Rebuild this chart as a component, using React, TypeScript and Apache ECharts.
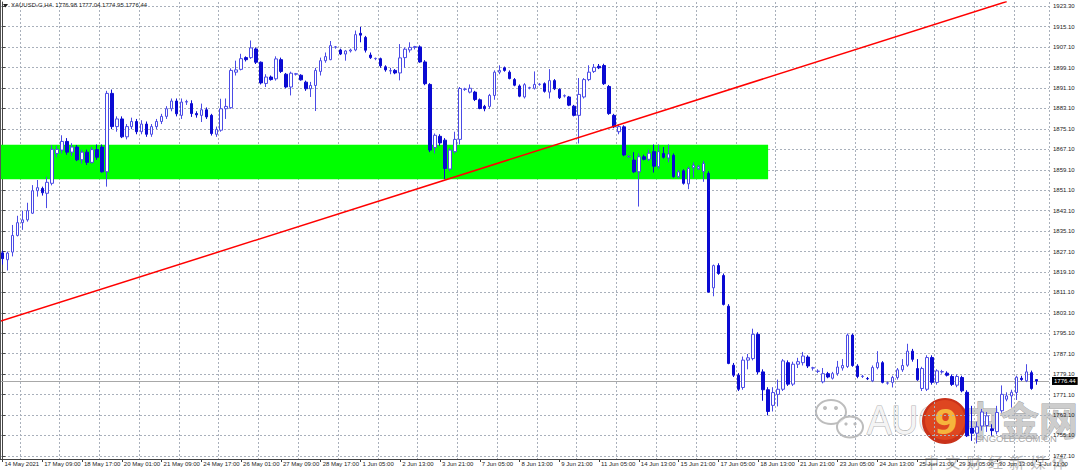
import React, { useEffect, useRef } from "react";
import * as echarts from "echarts";

const tickLabels = [
  "14 May 2021", "17 May 09:00", "18 May 17:00", "20 May 01:00", "21 May 09:00",
  "24 May 17:00", "26 May 01:00", "27 May 09:00", "28 May 17:00", "1 Jun 05:00",
  "2 Jun 13:00", "3 Jun 21:00", "7 Jun 05:00", "8 Jun 13:00", "9 Jun 21:00",
  "11 Jun 05:00", "14 Jun 13:00", "15 Jun 21:00", "17 Jun 05:00", "18 Jun 13:00",
  "21 Jun 21:00", "23 Jun 05:00", "24 Jun 13:00", "25 Jun 21:00", "29 Jun 05:00",
  "30 Jun 13:00", "1 Jul 21:00",
];

const priceLabels = [
  1923.3, 1915.1, 1907.1, 1899.1, 1891.1, 1883.1, 1875.1, 1867.1, 1859.1, 1851.1,
  1843.1, 1835.1, 1827.1, 1819.1, 1811.1, 1803.1, 1795.1, 1787.1, 1779.1, 1771.1,
  1763.1, 1755.1, 1747.1,
];

// [open, high, low, close] per H4 bar
const candles: number[][] = [
  [1826.6, 1827.5, 1822.0, 1824.3], [1823.9, 1827.1, 1819.7, 1826.5], [1826.9, 1837.5, 1825.2, 1833.4],
  [1833.4, 1841.1, 1833.0, 1838.4], [1838.4, 1843.1, 1835.6, 1839.5], [1839.5, 1846.2, 1838.8, 1843.1],
  [1842.1, 1853.1, 1841.8, 1850.9], [1850.9, 1855.1, 1848.6, 1852.1], [1851.8, 1852.5, 1849.0, 1850.1],
  [1849.9, 1856.4, 1844.1, 1854.2], [1853.8, 1868.7, 1853.0, 1867.1], [1865.5, 1868.5, 1864.0, 1867.1],
  [1866.8, 1872.6, 1865.5, 1870.2], [1870.2, 1871.5, 1865.0, 1866.0], [1866.0, 1869.5, 1864.5, 1868.0],
  [1868.0, 1868.8, 1862.5, 1863.0], [1863.0, 1867.0, 1861.5, 1866.0], [1866.0, 1867.0, 1861.0, 1862.0],
  [1862.0, 1868.0, 1861.5, 1867.0], [1867.0, 1869.0, 1863.0, 1864.0], [1868.0, 1869.0, 1858.0, 1858.3],
  [1858.3, 1890.0, 1852.5, 1889.0], [1889.0, 1890.5, 1875.0, 1876.0], [1876.0, 1880.0, 1874.0, 1879.0],
  [1879.0, 1880.0, 1871.5, 1872.0], [1872.0, 1877.0, 1871.0, 1876.0], [1876.0, 1879.5, 1875.0, 1878.0],
  [1878.0, 1879.0, 1873.0, 1874.0], [1874.0, 1878.5, 1873.0, 1877.0], [1877.0, 1878.0, 1872.0, 1873.0],
  [1873.0, 1877.0, 1872.0, 1876.0], [1876.0, 1879.0, 1875.0, 1878.0], [1878.0, 1881.0, 1877.0, 1880.0],
  [1880.0, 1884.0, 1879.0, 1883.0], [1883.0, 1887.0, 1882.0, 1886.0], [1886.0, 1887.0, 1880.0, 1881.0],
  [1880.4, 1887.0, 1879.0, 1885.6], [1885.6, 1886.5, 1884.5, 1885.8], [1885.0, 1886.3, 1879.8, 1881.1],
  [1881.1, 1882.0, 1879.5, 1880.6], [1880.4, 1885.0, 1877.8, 1882.6], [1882.6, 1883.5, 1879.0, 1879.8],
  [1880.4, 1881.0, 1872.5, 1873.3], [1873.0, 1876.0, 1872.0, 1874.9], [1874.6, 1886.9, 1874.0, 1883.0],
  [1883.0, 1887.0, 1879.0, 1883.9], [1883.4, 1898.8, 1883.0, 1898.0], [1897.3, 1901.8, 1896.0, 1898.2],
  [1898.4, 1904.5, 1898.0, 1902.6], [1903.0, 1903.5, 1901.5, 1902.2], [1903.0, 1909.7, 1902.5, 1906.8],
  [1906.4, 1907.0, 1900.5, 1901.2], [1901.2, 1901.5, 1892.5, 1893.1], [1892.9, 1896.5, 1891.5, 1895.4],
  [1895.4, 1896.0, 1894.0, 1894.4], [1894.7, 1903.5, 1894.0, 1902.5], [1902.2, 1903.0, 1897.0, 1897.6],
  [1896.5, 1897.0, 1891.0, 1891.5], [1891.5, 1897.5, 1888.2, 1896.9], [1896.5, 1897.0, 1896.0, 1896.7],
  [1896.1, 1896.5, 1894.0, 1894.3], [1893.4, 1894.0, 1890.0, 1890.8], [1890.8, 1893.5, 1887.6, 1892.1],
  [1892.1, 1899.0, 1882.1, 1898.0], [1897.6, 1903.0, 1896.0, 1901.8], [1901.8, 1905.0, 1901.0, 1903.4],
  [1902.2, 1909.5, 1902.0, 1907.7], [1907.1, 1907.5, 1906.5, 1907.2], [1906.0, 1906.5, 1904.0, 1904.4],
  [1904.4, 1906.0, 1901.8, 1905.6], [1905.6, 1906.5, 1905.0, 1906.0], [1906.0, 1913.6, 1905.5, 1912.0],
  [1912.5, 1915.0, 1909.0, 1911.8], [1910.9, 1911.5, 1905.0, 1905.9], [1904.0, 1905.0, 1902.5, 1903.0],
  [1902.6, 1903.0, 1902.0, 1902.7], [1902.6, 1903.0, 1899.0, 1899.8], [1899.4, 1900.0, 1897.5, 1898.2],
  [1897.8, 1899.0, 1896.5, 1897.9], [1898.0, 1898.5, 1896.5, 1897.0], [1897.0, 1908.3, 1894.1, 1902.9],
  [1903.0, 1907.0, 1899.0, 1906.3], [1906.0, 1909.0, 1905.0, 1907.0], [1907.0, 1907.6, 1906.2, 1907.3],
  [1907.2, 1907.8, 1901.0, 1901.3], [1901.3, 1902.0, 1892.2, 1892.8], [1892.5, 1893.0, 1866.0, 1866.8],
  [1867.8, 1873.3, 1865.5, 1872.6], [1872.2, 1873.0, 1868.5, 1869.6], [1870.7, 1871.5, 1855.4, 1859.6],
  [1859.4, 1867.5, 1858.5, 1866.8], [1866.2, 1874.0, 1865.5, 1871.0], [1871.0, 1891.5, 1869.0, 1890.9],
  [1890.6, 1891.2, 1890.0, 1890.7], [1889.5, 1892.5, 1889.0, 1891.0], [1889.5, 1890.0, 1886.0, 1886.6],
  [1886.5, 1887.0, 1882.8, 1883.1], [1883.9, 1884.5, 1882.0, 1883.0], [1883.9, 1888.8, 1883.0, 1888.2],
  [1888.2, 1898.0, 1886.5, 1897.3], [1897.3, 1900.0, 1896.5, 1898.0], [1899.0, 1899.5, 1897.5, 1898.0],
  [1897.3, 1898.0, 1894.5, 1894.8], [1894.4, 1895.0, 1891.8, 1892.2], [1891.9, 1892.5, 1887.5, 1887.9],
  [1887.6, 1893.0, 1887.0, 1892.4], [1891.1, 1891.6, 1890.6, 1891.2], [1891.0, 1897.6, 1890.5, 1892.5],
  [1892.5, 1893.0, 1892.0, 1892.6], [1892.8, 1893.3, 1889.3, 1889.8], [1889.5, 1898.5, 1887.0, 1894.0],
  [1894.0, 1894.6, 1890.3, 1890.8], [1890.6, 1891.0, 1886.8, 1887.3], [1888.0, 1888.6, 1887.4, 1888.1],
  [1887.6, 1888.0, 1884.0, 1884.4], [1884.0, 1884.5, 1880.0, 1880.4], [1880.4, 1895.0, 1869.4, 1888.6],
  [1887.6, 1895.0, 1887.0, 1894.4], [1894.4, 1900.0, 1893.8, 1897.3], [1897.6, 1900.5, 1897.0, 1899.2],
  [1899.6, 1900.5, 1898.5, 1899.0], [1899.9, 1900.6, 1892.3, 1892.8], [1891.7, 1892.3, 1880.6, 1881.1],
  [1880.4, 1881.0, 1875.4, 1875.9], [1874.0, 1876.8, 1873.0, 1876.0], [1875.9, 1876.5, 1864.4, 1864.9],
  [1864.2, 1864.8, 1863.8, 1864.3], [1862.9, 1866.0, 1857.8, 1858.3], [1858.3, 1865.5, 1844.7, 1864.2],
  [1864.2, 1865.0, 1862.8, 1863.2], [1863.2, 1867.0, 1862.5, 1865.6], [1866.2, 1869.0, 1858.0, 1860.5],
  [1860.3, 1869.0, 1859.5, 1866.2], [1865.5, 1868.0, 1863.5, 1864.0], [1863.7, 1869.0, 1862.0, 1865.3],
  [1864.8, 1865.5, 1856.0, 1856.4], [1856.4, 1859.0, 1855.8, 1858.3], [1858.7, 1859.3, 1853.3, 1853.8],
  [1853.6, 1860.3, 1851.5, 1859.6], [1859.9, 1862.0, 1856.0, 1860.9], [1859.5, 1861.0, 1859.0, 1860.3],
  [1858.4, 1862.6, 1854.4, 1861.6], [1857.7, 1858.5, 1811.0, 1811.2], [1812.9, 1822.0, 1809.6, 1821.6],
  [1821.6, 1822.5, 1818.0, 1818.5], [1817.7, 1818.5, 1806.0, 1806.4], [1805.7, 1806.5, 1783.0, 1783.3],
  [1782.6, 1783.5, 1778.0, 1778.7], [1778.7, 1779.5, 1772.5, 1773.2], [1773.9, 1786.0, 1773.0, 1784.6],
  [1784.6, 1787.0, 1781.0, 1785.5], [1785.2, 1796.9, 1784.5, 1794.7], [1794.7, 1795.5, 1779.0, 1780.0],
  [1780.0, 1781.0, 1768.7, 1773.0], [1773.0, 1774.0, 1763.0, 1764.5], [1766.9, 1774.0, 1764.5, 1771.9],
  [1771.2, 1777.0, 1766.5, 1773.2], [1773.2, 1785.0, 1772.5, 1784.3], [1783.6, 1784.5, 1774.5, 1775.2],
  [1775.2, 1784.0, 1774.5, 1783.0], [1783.0, 1785.5, 1781.5, 1784.0], [1783.6, 1787.8, 1782.5, 1786.2],
  [1785.8, 1786.5, 1781.5, 1782.3], [1781.5, 1782.0, 1780.5, 1781.6], [1780.2, 1781.0, 1779.5, 1780.3],
  [1776.1, 1781.5, 1775.5, 1779.3], [1779.3, 1780.0, 1777.5, 1778.0], [1777.5, 1780.0, 1777.0, 1779.3],
  [1779.3, 1784.3, 1778.5, 1781.9], [1781.5, 1785.0, 1780.5, 1782.5], [1782.1, 1795.0, 1781.5, 1794.4],
  [1794.4, 1795.0, 1782.0, 1782.5], [1782.3, 1783.0, 1777.5, 1778.2], [1778.2, 1778.8, 1777.6, 1778.3],
  [1777.4, 1778.0, 1776.8, 1777.3], [1776.5, 1782.5, 1776.0, 1781.7], [1781.7, 1788.1, 1781.0, 1783.6],
  [1783.6, 1784.2, 1775.5, 1775.9], [1775.6, 1776.2, 1775.0, 1775.7], [1775.9, 1778.5, 1773.9, 1777.8],
  [1777.8, 1781.5, 1777.0, 1780.8], [1780.8, 1785.0, 1780.0, 1782.5], [1782.6, 1791.0, 1782.0, 1788.1],
  [1788.1, 1789.0, 1784.0, 1784.9], [1781.3, 1785.0, 1776.5, 1776.9], [1773.5, 1782.0, 1772.5, 1781.3],
  [1773.2, 1786.5, 1772.5, 1785.6], [1785.6, 1786.5, 1775.0, 1775.9], [1775.9, 1781.0, 1775.0, 1780.4],
  [1780.0, 1780.8, 1779.3, 1780.1], [1779.5, 1780.2, 1778.2, 1778.7], [1778.2, 1779.0, 1774.5, 1775.1],
  [1774.8, 1779.0, 1774.0, 1778.2], [1777.8, 1778.5, 1772.0, 1772.6], [1772.0, 1772.8, 1754.5, 1755.0],
  [1758.0, 1766.7, 1753.0, 1756.0], [1756.0, 1760.5, 1752.0, 1758.5], [1758.8, 1765.5, 1757.0, 1764.3],
  [1759.0, 1764.3, 1756.5, 1762.8], [1757.7, 1759.5, 1755.0, 1757.0], [1756.6, 1766.7, 1755.5, 1764.1],
  [1764.8, 1774.7, 1764.0, 1771.2], [1769.3, 1772.0, 1768.5, 1770.6], [1770.6, 1773.0, 1766.0, 1772.0],
  [1771.9, 1778.5, 1769.0, 1777.9], [1777.5, 1778.5, 1776.5, 1777.0], [1776.5, 1783.0, 1776.0, 1780.0],
  [1779.7, 1780.5, 1773.0, 1773.5], [1776.98, 1777.04, 1774.95, 1776.44],
];

const lastPrice = 1776.44;
// trend line endpoints: [bar index, price]
const trendLine = [[-0.5, 1799.76], [202, 1924.96]];
// support zone: bar range and price range
const zoneBars = [-0.5, 154];
const zonePrices = [1868.9, 1855.4];
const totalSlots = 211;

const AXIS_FONT = "'Liberation Sans', Arial, sans-serif";

export default function App() {
  const ref = useRef<HTMLDivElement>(null);
  useEffect(() => {
    const chart = echarts.init(ref.current!, null, { renderer: "svg" });
    const cats = Array.from({ length: totalSlots }, (_, i) => String(i));
    const showTick = (idx: number) => idx % 8 === 0 && idx / 8 < tickLabels.length;
    const option: any = {
      animation: false,
      backgroundColor: "#ffffff",
      grid: { left: 0, right: 31, top: 2, bottom: 14, containLabel: false, outerBoundsMode: "none" },
      xAxis: [
        {
          type: "category",
          data: cats,
          boundaryGap: true,
          axisLine: { show: true, lineStyle: { color: "#444", width: 1 } },
          axisTick: { show: true, alignWithLabel: true, interval: (i: number) => showTick(i), length: 3, lineStyle: { color: "#444" } },
          axisLabel: {
            interval: (i: number) => showTick(i),
            formatter: (v: string) => {
              const i = Number(v);
              return showTick(i) ? tickLabels[i / 8] : "";
            },
            align: "left",
            padding: [0, 0, 0, 2],
            margin: 2,
            fontSize: 6,
            color: "#222",
            fontFamily: AXIS_FONT,
          },
          splitLine: { show: true, interval: (i: number) => i % 8 === 4, lineStyle: { color: "#a9b0bb", type: [2, 2], width: 1 } },
        },
        { type: "value", min: -0.5, max: totalSlots - 0.5, show: false },
      ],
      yAxis: {
        type: "value",
        position: "right",
        min: 1745.9,
        max: 1924.77,
        scale: true,
        axisLine: { show: true, lineStyle: { color: "#444", width: 1 } },
        axisTick: { show: true, customValues: priceLabels, length: 3, lineStyle: { color: "#444" } },
        axisLabel: {
          customValues: priceLabels,
          formatter: (v: number) => v.toFixed(2),
          fontSize: 6,
          margin: 4,
          color: "#222",
          fontFamily: AXIS_FONT,
        },
        splitLine: { show: true, lineStyle: { color: "#a9b0bb", type: [2, 2], width: 1 } },
      },
      series: [
        {
          type: "candlestick",
          xAxisIndex: 0,
          yAxisIndex: 0,
          barWidth: 3,
          z: 3,
          data: candles.map(([o, h, l, c]) => [o, c, l, h]),
          itemStyle: {
            color: "#ffffff",
            color0: "#0a0ad2",
            borderColor: "#4b4be6",
            borderColor0: "#0a0ad2",
            borderWidth: 1,
          },
          markLine: {
            silent: true,
            symbol: "none",
            z: 2,
            lineStyle: { color: "#a8a8a8", type: "solid", width: 1 },
            label: {
              show: true,
              position: "end",
              distance: 3,
              formatter: () => lastPrice.toFixed(2),
              backgroundColor: "#000",
              color: "#fff",
              fontSize: 6,
              fontFamily: AXIS_FONT,
              padding: [1, 2, 1, 2],
            },
            data: [{ yAxis: lastPrice }],
          },
        },
        {
          type: "line",
          xAxisIndex: 1,
          yAxisIndex: 0,
          z: 6,
          symbol: "none",
          clip: true,
          lineStyle: { color: "#ff0000", width: 1.5 },
          data: trendLine,
          markArea: {
            silent: true,
            z: 1,
            itemStyle: { color: "#00ff00", opacity: 1 },
            data: [[{ xAxis: zoneBars[0], yAxis: zonePrices[0] }, { xAxis: zoneBars[1], yAxis: zonePrices[1] }]],
          },
        },
      ],
      graphic: [
        { type: "line", shape: { x1: 0.5, y1: 0, x2: 0.5, y2: 459 }, style: { stroke: "#555", lineWidth: 1 }, z: 10 },
        { type: "polygon", shape: { points: [[3, 4], [8, 4], [5.5, 7.5]] }, style: { fill: "#222" }, z: 10 },
        {
          type: "text", x: 11, y: 2, z: 10,
          style: { text: "XAUUSD-G,H4  1776.98 1777.04 1774.95 1776.44", fontSize: 6, fill: "#222", fontFamily: AXIS_FONT },
        },
        // watermark
        {
          type: "group", z: 20,
          children: [
            { type: "ellipse", shape: { cx: 831, cy: 412, rx: 15, ry: 12 }, style: { fill: "rgba(255,255,255,0.6)", stroke: "#bdbdbd", lineWidth: 2 } },
            { type: "ellipse", shape: { cx: 850, cy: 427, rx: 13, ry: 10.5 }, style: { fill: "rgba(255,255,255,0.6)", stroke: "#bdbdbd", lineWidth: 2 } },
            { type: "circle", shape: { cx: 825, cy: 408, r: 2 }, style: { fill: "#bdbdbd" } },
            { type: "circle", shape: { cx: 836, cy: 408, r: 2 }, style: { fill: "#bdbdbd" } },
            { type: "circle", shape: { cx: 846, cy: 424, r: 1.6 }, style: { fill: "#bdbdbd" } },
            { type: "circle", shape: { cx: 855, cy: 424, r: 1.6 }, style: { fill: "#bdbdbd" } },
            {
              type: "text", x: 867, y: 399, scaleX: 0.9,
              style: { text: "AUG", fontSize: 41, fontFamily: "Arial, 'Liberation Sans', sans-serif", fill: "#f4f4f4", stroke: "#b5b5b5", lineWidth: 1.2 },
            },
            {
              type: "text", x: 961, y: 398,
              style: { text: "中金网", fontSize: 39, fontWeight: "bold", fontFamily: "'Noto Sans CJK SC', sans-serif", fill: "#cdcdcd", stroke: "#9c9c9c", lineWidth: 0.8 },
            },
            {
              type: "text", x: 975, y: 433,
              style: { text: "CNGOLD.COM.CN", fontSize: 9.5, fontFamily: "Arial, 'Liberation Sans', sans-serif", fill: "#a8a8a8" },
            },
            ...["中", "文", "财", "经", "新", "媒", "体"].map((ch, k) => ({
              type: "text", x: 924 + k * 21.3, y: 454,
              style: { text: ch, fontSize: 15, fontFamily: "'Noto Sans CJK SC', sans-serif", fill: "#bcbcbc" },
            })),
            { type: "circle", shape: { cx: 945, cy: 421, r: 23 }, style: { fill: "#c9321a" } },
            { type: "circle", shape: { cx: 945, cy: 420, r: 20 }, style: { fill: "#de4620" } },
            {
              type: "text", x: 946, y: 422,
              style: { text: "9", fontSize: 34, fontWeight: "bold", fontFamily: "'DejaVu Sans', sans-serif", fill: "#f6b43c", align: "center", verticalAlign: "middle" },
            },
          ],
        },
      ],
    };
    chart.setOption(option);
    return () => chart.dispose();
  }, []);
  return <div ref={ref} style={{ position: "absolute", left: 0, top: 0, width: 1080, height: 473 }} />;
}
